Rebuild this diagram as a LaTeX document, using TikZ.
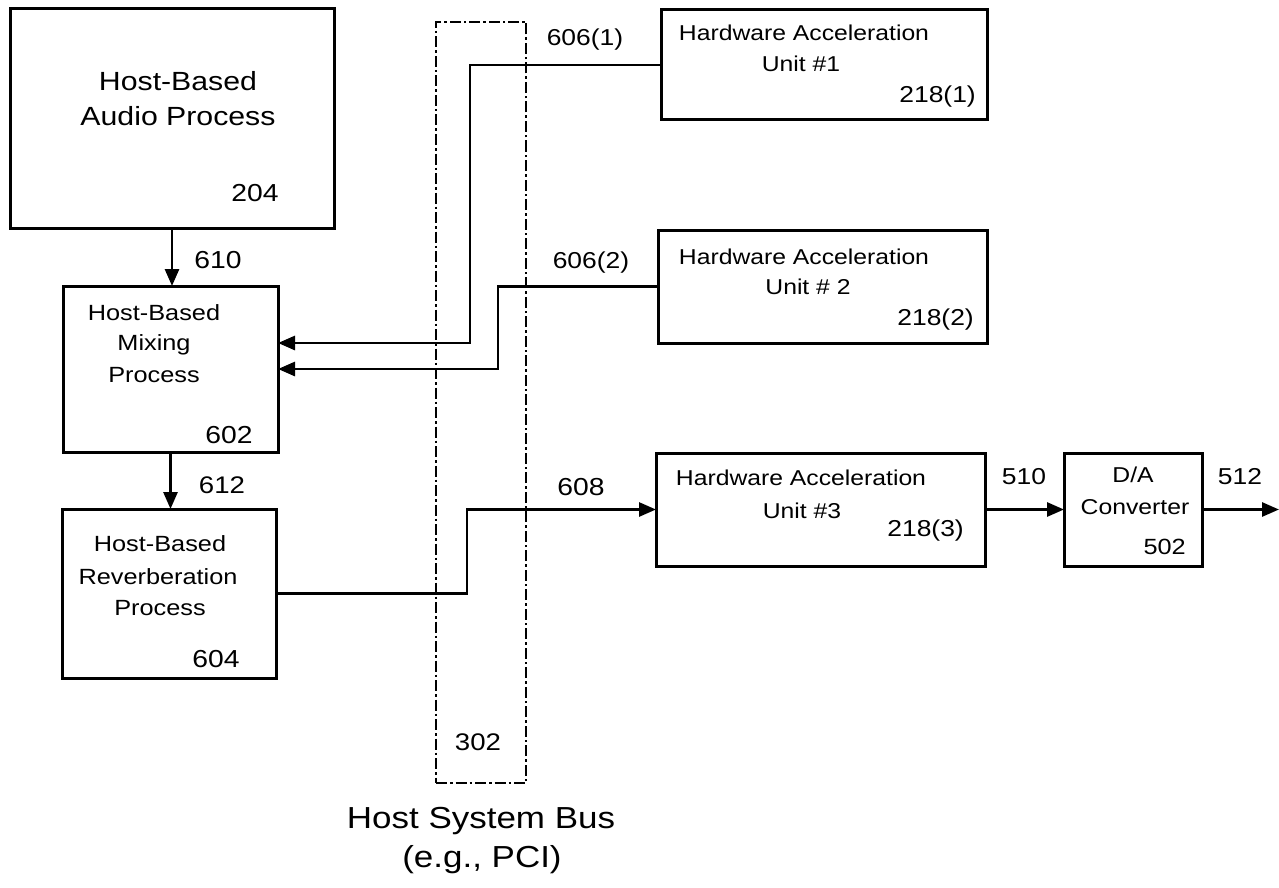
\documentclass[tikz,border=0pt]{standalone}
\usepackage{fontspec}
\setmainfont{Liberation Sans}[FakeStretch=1.15]
\usetikzlibrary{arrows.meta}
\newcommand{\fs}[1]{\fontsize{#1}{#1}\selectfont}
\begin{document}
\begin{tikzpicture}[x=1pt,y=-1pt,
  box/.style={draw, line width=3pt, inner sep=0pt, outer sep=0pt},
  conn/.style={line width=2.8pt},
  arr/.style={conn, -{Triangle[length=17pt,width=14pt]}},
  bus/.style={draw, line width=2.6pt, dash pattern=on 11pt off 3pt on 2.5pt off 3pt, inner sep=0pt, outer sep=0pt},
  t/.style={inner sep=0pt}]
\useasboundingbox (0,0) rectangle (1279,888);
% boxes
\node[box, minimum width=324pt, minimum height=219pt] (audio) at (172,118.5) {};
\node[box, minimum width=215pt, minimum height=166pt] (mix) at (170.5,369) {};
\node[box, minimum width=214pt, minimum height=169pt] (rev) at (169,593.5) {};
\node[box, minimum width=326pt, minimum height=110pt] (hau1) at (824,65) {};
\node[box, minimum width=329pt, minimum height=113pt] (hau2) at (822.5,286.5) {};
\node[box, minimum width=329pt, minimum height=113pt] (hau3) at (820.5,509.5) {};
\node[box, minimum width=138pt, minimum height=113pt] (da) at (1133,509.5) {};
\node[bus, minimum width=90pt, minimum height=761pt] (busbox) at (481,402.5) {};
% texts
\node[t, font=\fs{26.3}] (tA1) at (178,81) {Host-Based};
\node[t, font=\fs{26.3}] (tA2) at (178,116) {Audio Process};
\node[t, font=\fs{24.6}] (n204) at (255,193) {204};
\node[t, font=\fs{22}] (tM1) at (154,313) {Host-Based};
\node[t, font=\fs{22}] (tM2) at (154,345) {Mixing};
\node[t, font=\fs{22}] (tM3) at (154,375) {Process};
\node[t, font=\fs{24.6}] (n602) at (229,435) {602};
\node[t, font=\fs{22}] (tR1) at (160,544) {Host-Based};
\node[t, font=\fs{22}] (tR2) at (158,577) {Reverberation};
\node[t, font=\fs{22}] (tR3) at (160,608) {Process};
\node[t, font=\fs{24.6}] (n604) at (216,659) {604};
\node[t, font=\fs{21.5}] (tH11) at (804,33) {Hardware Acceleration};
\node[t, font=\fs{21.5}] (tH12) at (801,64) {Unit \#1};
\node[t, font=\fs{23}, anchor=east] (n2181) at (976,97) {218(1)};
\node[t, font=\fs{21.5}] (tH21) at (804,257) {Hardware Acceleration};
\node[t, font=\fs{21.5}] (tH22) at (808,287) {Unit \# 2};
\node[t, font=\fs{23}, anchor=east] (n2182) at (974,320) {218(2)};
\node[t, font=\fs{21.5}] (tH31) at (801,478) {Hardware Acceleration};
\node[t, font=\fs{21.5}] (tH32) at (802,511) {Unit \#3};
\node[t, font=\fs{23}, anchor=east] (n2183) at (964,531) {218(3)};
\node[t, font=\fs{21.5}] (tD1) at (1133,475) {D/A};
\node[t, font=\fs{21.5}] (tD2) at (1135,507) {Converter};
\node[t, font=\fs{22}, anchor=east] (n502) at (1186,547) {502};
\node[t, font=\fs{24.6}] (n610) at (218,260) {610};
\node[t, font=\fs{24}] (n612) at (222,485) {612};
\node[t, font=\fs{23}] (n6061) at (585,40) {606(1)};
\node[t, font=\fs{23}] (n6062) at (591,263) {606(2)};
\node[t, font=\fs{24.6}] (n608) at (581,487) {608};
\node[t, font=\fs{23}] (n510) at (1024,477) {510};
\node[t, font=\fs{23}] (n512) at (1240,477) {512};
\node[t, font=\fs{24}] (n302) at (478,742) {302};
\node[t, font=\fs{30.4}] (bl1) at (481,821) {Host System Bus};
\node[t, font=\fs{30.4}] (bl2) at (482,860) {(e.g., PCI)};
% connectors
\coordinate (k1) at (470,343);
\coordinate (k2) at (498,369);
\coordinate (k3) at (467,0);
\coordinate (out) at (1279,509.5);
\draw[arr] (audio.south) -- (audio.south |- mix.north);
\draw[arr] (mix.south) -- (mix.south |- rev.north);
\draw[arr] (hau1.west) -| (k1) -- (k1 -| mix.east);
\draw[arr] (hau2.west) -| (k2) -- (k2 -| mix.east);
\draw[arr] (rev.east) -| (k3 |- hau3.west) -- (hau3.west);
\draw[arr] (hau3.east) -- (da.west);
\draw[arr] (da.east) -- (out);
\end{tikzpicture}
\end{document}
